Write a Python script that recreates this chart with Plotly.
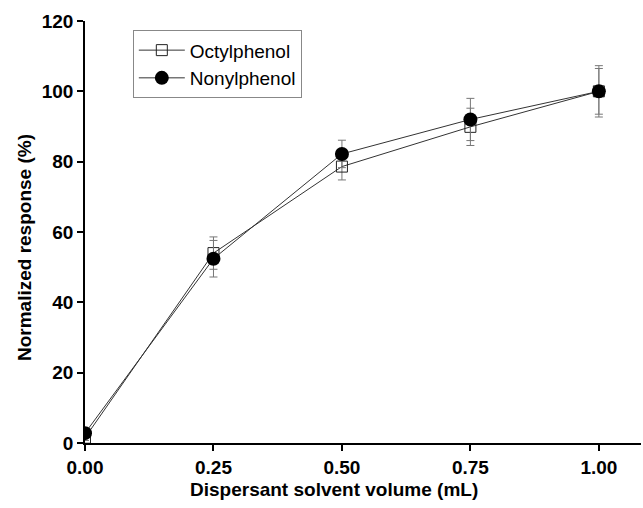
import plotly.graph_objects as go

volume = [0.0, 0.25, 0.50, 0.75, 1.00]
octyl = [1.5, 54.0, 78.6, 89.9, 100.0]
octyl_err = [0.8, 4.6, 3.8, 5.3, 6.5]
nonyl = [2.8, 52.4, 82.2, 92.0, 100.0]
nonyl_err = [0.8, 5.2, 3.9, 6.0, 7.3]

x_ticks = [0.0, 0.25, 0.50, 0.75, 1.00]
x_ticklabels = ["0.00", "0.25", "0.50", "0.75", "1.00"]
y_ticks = [0, 20, 40, 60, 80, 100, 120]

x_title = "Dispersant solvent volume (mL)"
y_title = "Normalized response (%)"

FONT = "Liberation Sans, Arial, sans-serif"

fig = go.Figure()
fig.add_trace(go.Scatter(
    x=volume, y=octyl, name="Octylphenol", mode="lines+markers",
    line=dict(color="#333333", width=1),
    marker=dict(symbol="square-open", size=11, color="#222222", line=dict(width=1)),
    error_y=dict(type="data", array=octyl_err, visible=True, color="#777777",
                 thickness=1, width=4),
))
fig.add_trace(go.Scatter(
    x=volume, y=nonyl, name="Nonylphenol", mode="lines+markers",
    line=dict(color="#333333", width=1),
    marker=dict(symbol="circle", size=14, color="black"),
    error_y=dict(type="data", array=nonyl_err, visible=True, color="#777777",
                 thickness=1, width=4),
))

fig.update_layout(
    width=643, height=508,
    margin=dict(l=85, r=2, t=21, b=65),
    paper_bgcolor="white", plot_bgcolor="white",
    font=dict(family=FONT, color="black"),
    showlegend=True,
    legend=dict(
        x=0.086, y=0.978, xanchor="left", yanchor="top",
        bgcolor="white", bordercolor="#888888", borderwidth=1,
        font=dict(family=FONT, size=19, color="black"),
        tracegroupgap=0, itemwidth=46,
    ),
    xaxis=dict(
        range=[0, 1.082], tickvals=x_ticks, ticktext=x_ticklabels,
        showline=True, linecolor="black", linewidth=1.5,
        ticks="outside", ticklen=6, tickcolor="black", tickwidth=1.5,
        showgrid=False, zeroline=False,
        tickfont=dict(family=FONT, size=19, color="black", weight="bold"),
    ),
    yaxis=dict(
        range=[0, 120], tickvals=y_ticks,
        showline=True, linecolor="black", linewidth=1.5,
        ticks="outside", ticklen=6, tickcolor="black", tickwidth=1.5,
        showgrid=False, zeroline=False,
        tickfont=dict(family=FONT, size=19, color="black", weight="bold"),
    ),
    annotations=[
        dict(text="<b>" + x_title + "</b>", xref="paper", yref="paper",
             x=0.448, y=-0.111, xanchor="center", yanchor="middle",
             showarrow=False, font=dict(family=FONT, size=19, color="black")),
        dict(text="<b>" + y_title + "</b>", xref="paper", yref="paper",
             x=-0.11, y=0.464, xanchor="center", yanchor="middle", textangle=-90,
             showarrow=False, font=dict(family=FONT, size=19, color="black")),
    ],
)

fig.write_html("out.html")
